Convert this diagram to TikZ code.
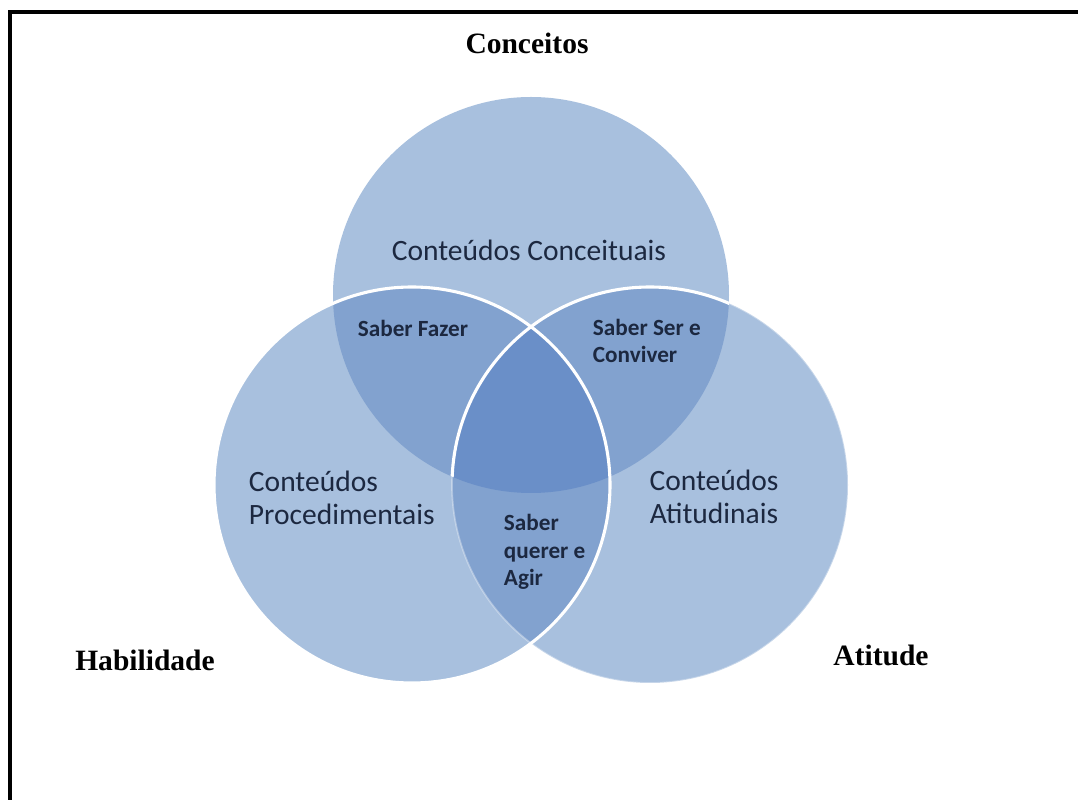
\documentclass[tikz,border=0pt]{standalone}
\usepackage{fontspec}
\setmainfont{Liberation Serif}
\newfontfamily\calibri{Carlito}
\usepackage{tikz}

\definecolor{claro}{HTML}{A8C0DE}
\definecolor{medio}{HTML}{82A2CF}
\definecolor{escuro}{HTML}{6A8FC8}
\definecolor{texto}{HTML}{1C2840}

\tikzset{
    titulo/.style={font=\fontsize{21}{25}\selectfont\bfseries, text=black},
    conteudo/.style={font=\calibri\fontsize{21}{23}\selectfont, text=texto},
    saber/.style={font=\calibri\fontsize{16.5}{19.5}\selectfont\bfseries, text=texto},
    contorno/.style={white, line width=2.2pt}
}

\begin{document}
\begin{tikzpicture}
        \useasboundingbox (0,0) rectangle (26.95,20);
        \draw[line width=2.85pt] (0.25,0) -- (0.25,19.7) -- (26.95,19.7);

        \coordinate (ct) at (13.275,12.625);
        \coordinate (cl) at (10.3,7.875);
        \coordinate (cr) at (16.25,7.875);

        \fill[claro] (ct) circle (4.95);
        \fill[claro] (cl) circle (4.95);
        \fill[claro] (cr) circle (4.95);
        \begin{scope}
            \clip (ct) circle (4.95);
            \fill[medio] (cl) circle (4.95);
            \fill[medio] (cr) circle (4.95);
        \end{scope}
        \begin{scope}
            \clip (cl) circle (4.95);
            \fill[medio] (cr) circle (4.95);
        \end{scope}
        \begin{scope}
            \clip (ct) circle (4.95);
            \clip (cl) circle (4.95);
            \fill[escuro] (cr) circle (4.95);
        \end{scope}

        \draw[contorno, opacity=0.35, line width=1.2pt] (cr) circle (4.95);
        \begin{scope}
            \clip (ct) circle (4.95);
            \draw[contorno] (cr) circle (4.95);
        \end{scope}
        \draw[contorno] (cl) circle (4.95);

        \node[titulo] (conceitos) at (13.175,18.925) {Conceitos};
        \node[titulo] (habilidade) at (3.625,3.5) {Habilidade};
        \node[titulo] (atitude) at (22.025,3.625) {Atitude};

        \node[conteudo] (conceituais) at (13.225,13.75) {Conteúdos Conceituais};
        \node[conteudo, align=left, anchor=west] (procedimentais) at (6.1,7.55) {Conteúdos\\Procedimentais};
        \node[conteudo, align=center] (atitudinais) at (17.85,7.575) {Conteúdos\\Atitudinais};

        \node[saber] (fazer) at (10.325,11.8) {Saber Fazer};
        \node[saber, align=left, anchor=west] (conviver) at (14.7,11.475) {Saber Ser e\\Conviver};
        \node[saber, align=left, anchor=west] (agir) at (12.475,6.2) {Saber\\querer e\\Agir};
    \end{tikzpicture}
\end{document}
